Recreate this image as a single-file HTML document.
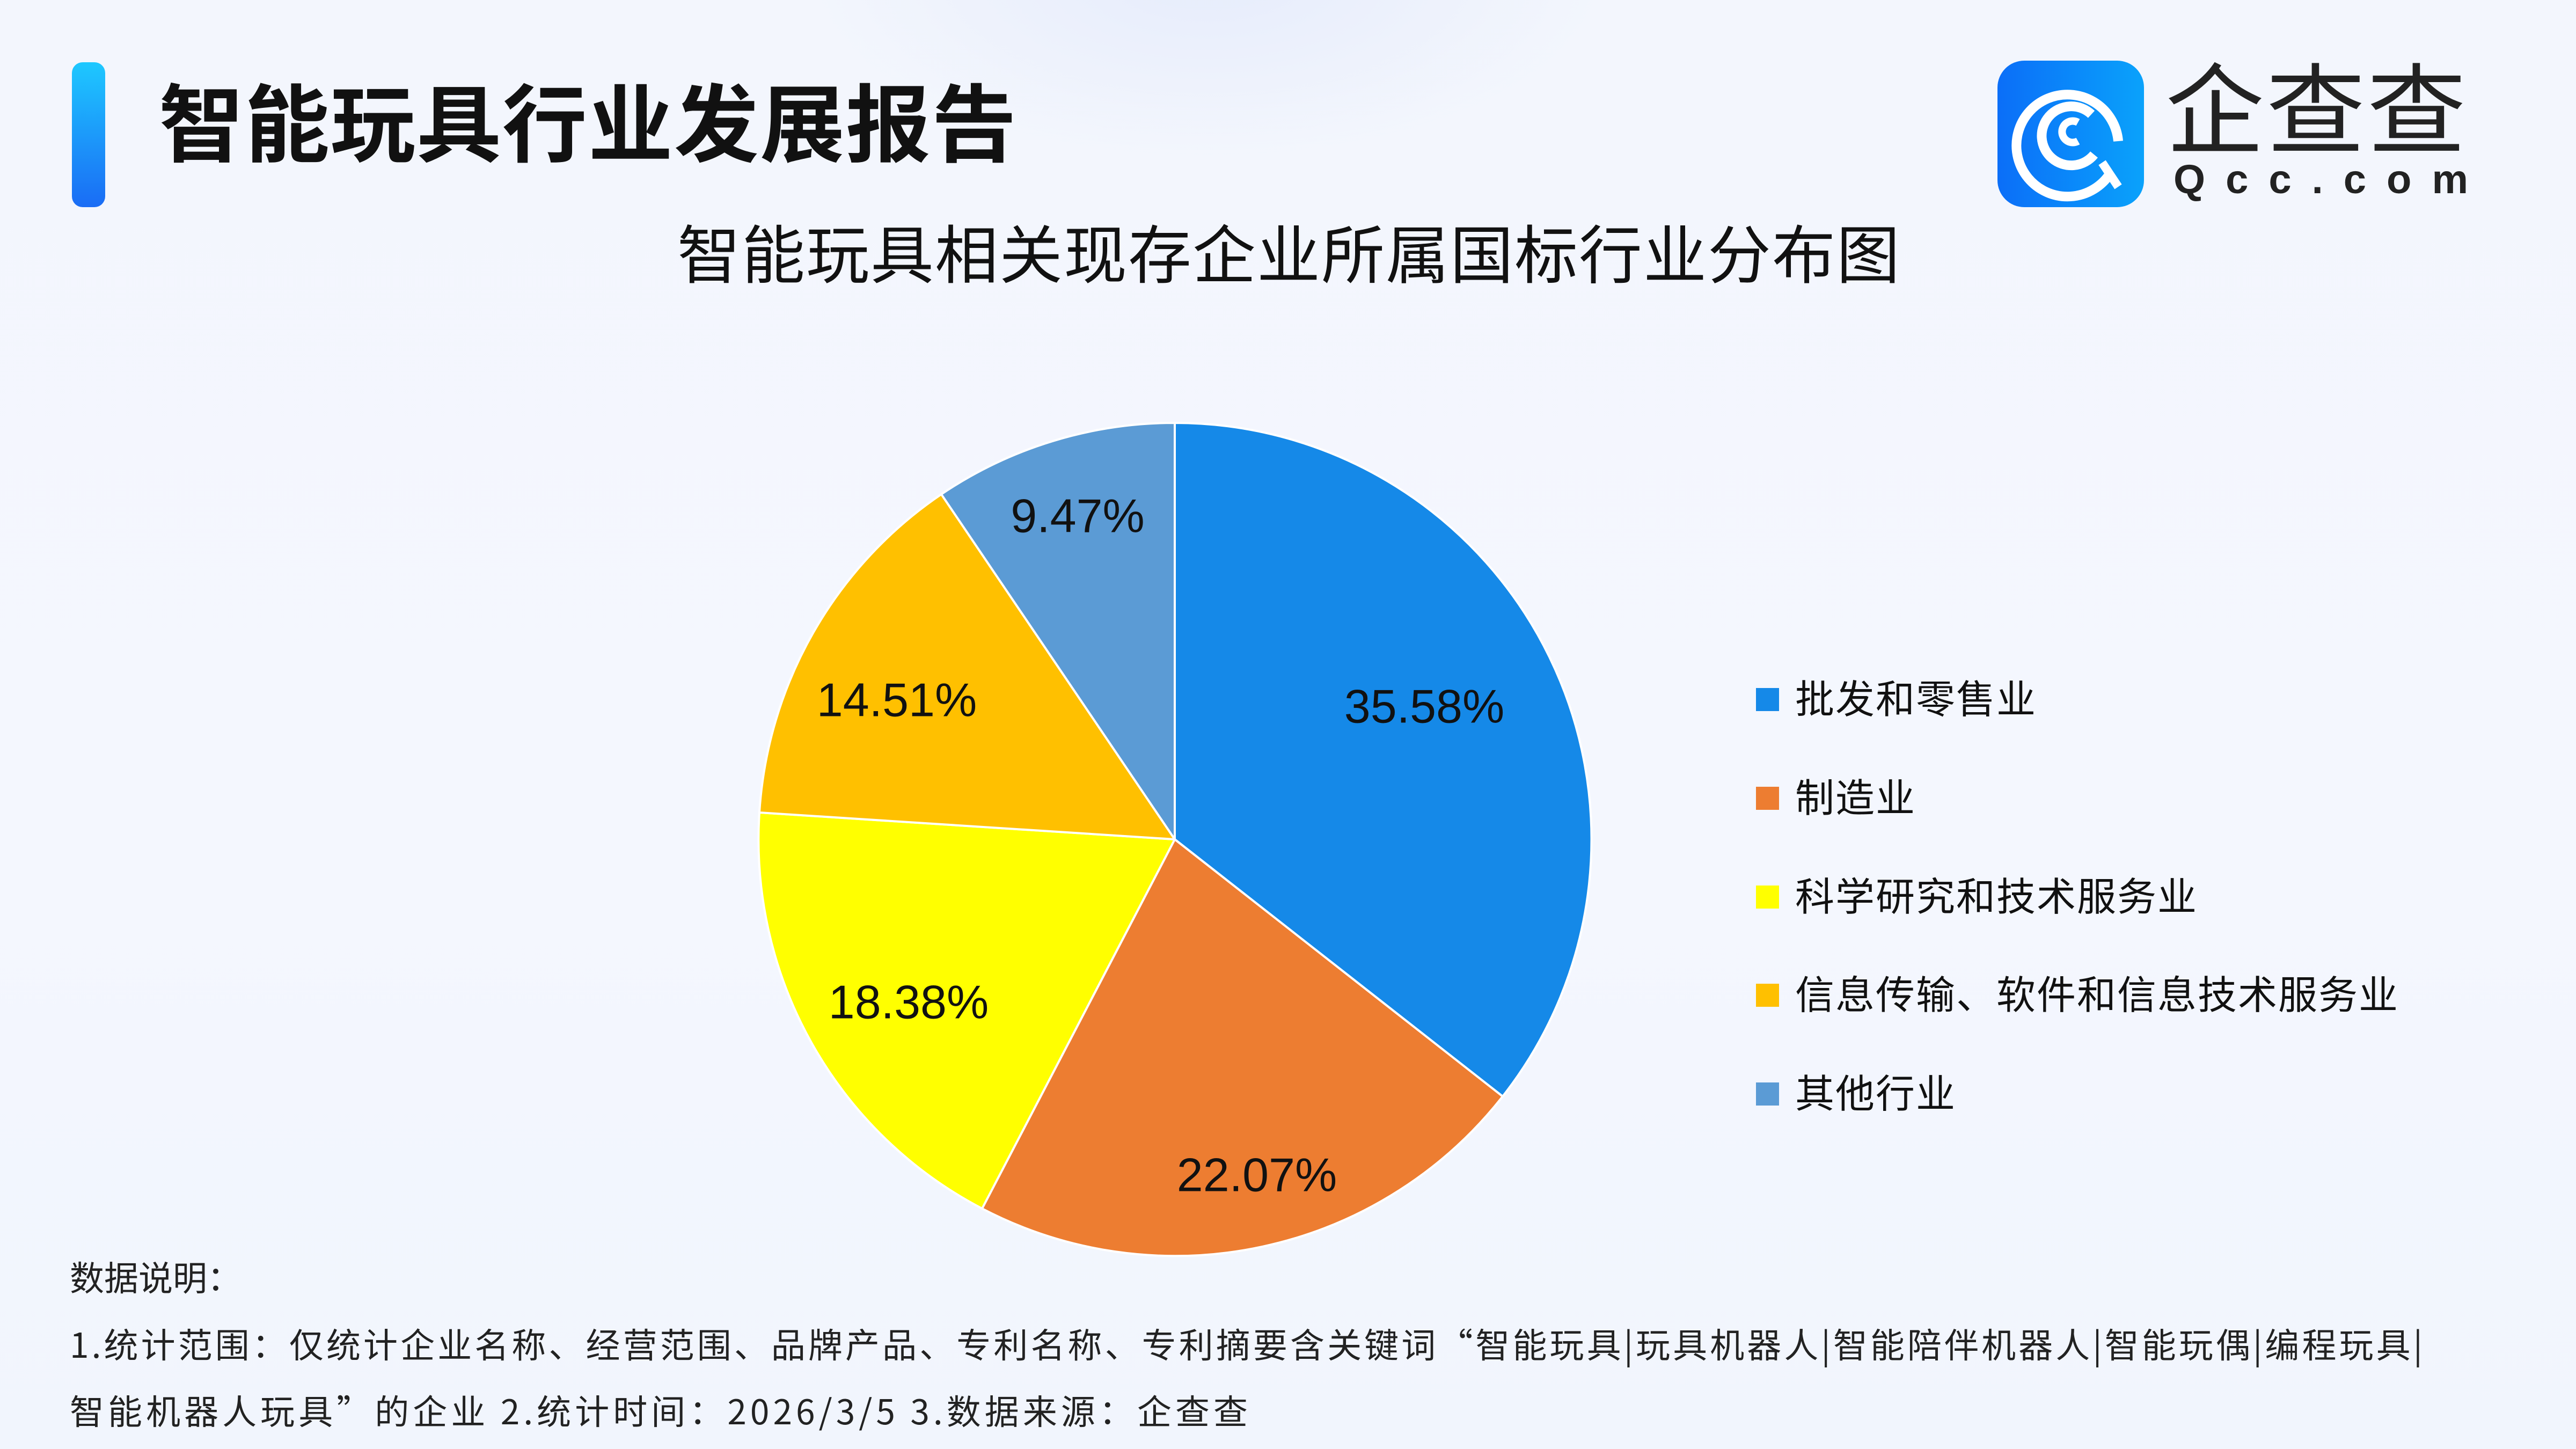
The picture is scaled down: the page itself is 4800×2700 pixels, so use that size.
<!DOCTYPE html>
<html><head><meta charset="utf-8"><style>
html,body{margin:0;padding:0}
body{width:4800px;height:2700px;overflow:hidden;position:relative;background:linear-gradient(180deg,#f3f6fd 0%,#f4f7fe 60%,#f1f5fd 100%);font-family:"Liberation Sans","Noto Sans CJK SC",sans-serif;color:#111}
.abs{position:absolute;white-space:nowrap}
</style></head><body>
<div class="abs" style="left:1500px;top:-400px;width:1500px;height:700px;border-radius:50%;background:radial-gradient(ellipse,#e6ecfb 0%,rgba(240,244,253,0) 70%)"></div>
<div class="abs" style="left:134px;top:116px;width:62px;height:270px;border-radius:20px;background:linear-gradient(180deg,#1ec8ff,#1a6cf5)"></div>
<div class="abs" style="left:296px;top:145px;font-size:158px;font-weight:bold;line-height:180px;letter-spacing:2px">智能玩具行业发展报告</div>
<div class="abs" style="left:3722px;top:113px;width:273px;height:273px;border-radius:50px;background:linear-gradient(90deg,#0b6ef8,#0aa2fb)">
<svg width="273" height="273" viewBox="0 0 273 273"><g fill="none" stroke="#fff" stroke-linecap="butt">
<path d="M210 210 A95 95 0 1 1 225 150" stroke-width="18"/>
<path d="M180 175 A55 55 0 1 1 175 100" stroke-width="18"/>
<path d="M150 150 A20 20 0 1 1 150 115" stroke-width="14"/>
<path d="M195 190 L225 235" stroke-width="16"/></g></svg></div>
<div class="abs" style="left:4035px;top:108px;font-size:184px;line-height:200px;color:#222;letter-spacing:4px">企查查</div>
<div class="abs" style="left:4050px;top:290px;font-size:76px;line-height:90px;color:#222;letter-spacing:38px;font-weight:bold">Qcc.com</div>
<div class="abs" style="left:1262px;top:408px;font-size:118px;line-height:140px;letter-spacing:2px">智能玩具相关现存企业所属国标行业分布图</div>
<svg class="abs" style="left:0;top:0" width="4800" height="2700">
<g stroke="#fff" stroke-width="4" stroke-linejoin="round">
<path d="M2189 1564 L2189 788 A776 776 0 0 1 2800 2043 Z" fill="#1589e8"/>
<path d="M2189 1564 L2800 2043 A776 776 0 0 1 1830 2252 Z" fill="#ed7d31"/>
<path d="M2189 1564 L1830 2252 A776 776 0 0 1 1415 1514 Z" fill="#ffff00"/>
<path d="M2189 1564 L1415 1514 A776 776 0 0 1 1754 921 Z" fill="#ffc000"/>
<path d="M2189 1564 L1754 921 A776 776 0 0 1 2189 788 Z" fill="#5b9bd5"/>
</g>
<g font-family="Liberation Sans, sans-serif" font-size="88" fill="#111" text-anchor="middle" dominant-baseline="central">
<text x="2654" y="1316">35.58%</text>
<text x="2342" y="2189">22.07%</text>
<text x="1693" y="1867">18.38%</text>
<text x="1671" y="1304">14.51%</text>
<text x="2008" y="961">9.47%</text>
</g>
<g>
<rect x="3272" y="1282" width="43" height="43" fill="#1589e8"/>
<rect x="3272" y="1466" width="43" height="43" fill="#ed7d31"/>
<rect x="3272" y="1650" width="43" height="43" fill="#ffff00"/>
<rect x="3272" y="1833" width="43" height="43" fill="#ffc000"/>
<rect x="3272" y="2017" width="43" height="43" fill="#5b9bd5"/>
</g>
<g font-family="Liberation Sans, Noto Sans CJK SC, sans-serif" font-size="73" fill="#111" dominant-baseline="central" letter-spacing="2">
<text x="3345" y="1304">批发和零售业</text>
<text x="3345" y="1488">制造业</text>
<text x="3345" y="1672">科学研究和技术服务业</text>
<text x="3345" y="1855">信息传输、软件和信息技术服务业</text>
<text x="3345" y="2039">其他行业</text>
</g>
<g font-family="Noto Sans CJK SC, sans-serif" font-size="64" fill="#222" dominant-baseline="central">
<text x="130" y="2378">数据说明：</text>
<text x="130" y="2503" textLength="4384" lengthAdjust="spacing">1.统计范围：仅统计企业名称、经营范围、品牌产品、专利名称、专利摘要含关键词“智能玩具|玩具机器人|智能陪伴机器人|智能玩偶|编程玩具|</text>
<text x="130" y="2627" textLength="2195" lengthAdjust="spacing">智能机器人玩具”的企业  2.统计时间：2026/3/5  3.数据来源：企查查</text>
</g>
</svg>
</body></html>
